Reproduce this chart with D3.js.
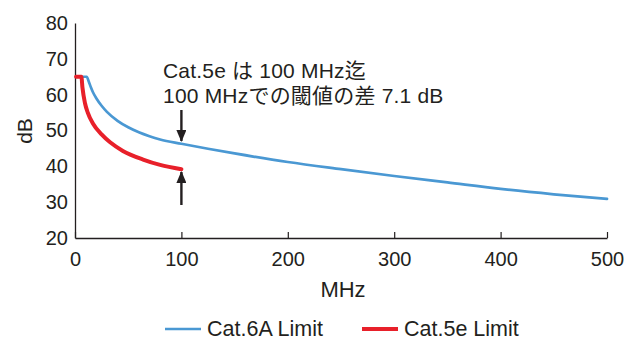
<!DOCTYPE html>
<html>
<head>
<meta charset="utf-8">
<script src="https://cdn.jsdelivr.net/npm/d3@7"></script>
<style>
  body { margin: 0; background: #fff; }
  text { font-family: "Liberation Sans", Arial, "Noto Sans CJK JP", sans-serif; fill: #231f20; }
</style>
</head>
<body>
<script>
// values (MHz, dB)
var cat6aFreq = [1, 11, 13, 15, 17, 20, 25, 30, 40, 50, 60, 70, 80, 100, 125, 150, 200, 250, 300, 350, 400, 450, 500];
var cat6aDb   = [65, 65, 63.6, 62, 60.6, 59, 56.9, 55.2, 52.7, 50.9, 49.5, 48.4, 47.5, 46.3, 44.9, 43.6, 41.2, 39.2, 37.3, 35.5, 33.7, 32.2, 30.9];
var cat5eFreq = [1, 6, 7, 9.4, 12, 17, 25, 33, 45, 64, 80, 100];
var cat5eDb   = [65, 65, 62, 57.6, 55, 51.9, 48.9, 46.7, 44.3, 41.9, 40.4, 39.2];
var xTicks = [0, 100, 200, 300, 400, 500];
var yTicks = [20, 30, 40, 50, 60, 70, 80];
var seriesNames = ["Cat.6A Limit", "Cat.5e Limit"];
var seriesColors = ["#4a98d3", "#e8202a"];
var seriesWidths = [2.7, 4];

var W = 625, H = 341;
var svg = d3.select("body").append("svg").attr("width", W).attr("height", H);

var x = d3.scaleLinear().domain([0, 500]).range([75, 607]);
var y = d3.scaleLinear().domain([20, 80]).range([238, 23]);

// arrow head
svg.append("defs").append("marker")
  .attr("id", "head").attr("viewBox", "0 0 12 10")
  .attr("refX", 11).attr("refY", 5)
  .attr("markerWidth", 12).attr("markerHeight", 10)
  .attr("markerUnits", "userSpaceOnUse")
  .attr("orient", "auto")
  .append("path").attr("d", "M0,0 L12,5 L0,10 Z").attr("fill", "#231f20");

// x axis, ticks pointing up
var xAxis = svg.append("g").attr("transform", "translate(0," + y(20) + ")")
  .call(d3.axisBottom(x).tickValues(xTicks).tickSizeInner(-6).tickSizeOuter(0).tickPadding(14));
xAxis.select(".domain").attr("stroke", "#231f20").attr("stroke-width", 1.3);
xAxis.selectAll(".tick line").attr("stroke", "#231f20").attr("stroke-width", 1.2);
xAxis.selectAll(".tick text").attr("font-size", 20).attr("fill", "#231f20");

var yAxis = svg.append("g").attr("transform", "translate(" + x(0) + ",0)")
  .call(d3.axisLeft(y).tickValues(yTicks).tickSize(0).tickPadding(7));
yAxis.select(".domain").attr("stroke", "#231f20").attr("stroke-width", 1.3);
yAxis.selectAll(".tick text").attr("font-size", 20).attr("fill", "#231f20");

svg.append("text").attr("x", 343).attr("y", 297).attr("text-anchor", "middle")
  .attr("font-size", 22).text("MHz");
svg.append("text").attr("transform", "translate(32,131) rotate(-90)")
  .attr("text-anchor", "middle").attr("font-size", 21).text("dB");

// lines
var line = d3.line()
  .x(function(d) { return x(d[0]); })
  .y(function(d) { return y(d[1]); })
  .curve(d3.curveMonotoneX);

var series = [
  d3.zip(cat6aFreq, cat6aDb),
  d3.zip(cat5eFreq, cat5eDb)
];
svg.selectAll(".series").data(series).enter().append("path")
  .attr("class", "series")
  .attr("d", line)
  .attr("fill", "none")
  .attr("stroke", function(d, i) { return seriesColors[i]; })
  .attr("stroke-width", function(d, i) { return seriesWidths[i]; })
  .attr("stroke-linejoin", "round")
  .attr("stroke-linecap", "round");

// annotation
svg.append("text").attr("x", 163).attr("y", 78).attr("font-size", 21)
  .attr("letter-spacing", 0.2).text("Cat.5e は 100 MHz迄");
svg.append("text").attr("x", 163).attr("y", 103).attr("font-size", 21)
  .attr("letter-spacing", 0.2).text("100 MHzでの閾値の差 7.1 dB");

svg.append("line")
  .attr("x1", x(100)).attr("x2", x(100))
  .attr("y1", 110).attr("y2", 141)
  .attr("stroke", "#231f20").attr("stroke-width", 2.4)
  .attr("marker-end", "url(#head)");
svg.append("line")
  .attr("x1", x(100)).attr("x2", x(100))
  .attr("y1", 205).attr("y2", 172)
  .attr("stroke", "#231f20").attr("stroke-width", 2.4)
  .attr("marker-end", "url(#head)");

// legend
var legend = svg.selectAll(".leg").data(seriesNames).enter().append("g")
  .attr("class", "leg")
  .attr("transform", function(d, i) { return "translate(" + (165 + i * 197) + ",329)"; });
legend.append("line").attr("x1", 0).attr("x2", 36).attr("y1", 0).attr("y2", 0)
  .attr("stroke", function(d, i) { return seriesColors[i]; })
  .attr("stroke-width", function(d, i) { return seriesWidths[i]; });
legend.append("text").attr("x", 42).attr("y", 7).attr("font-size", 21.5).text(function(d) { return d; });
</script>
</body>
</html>
